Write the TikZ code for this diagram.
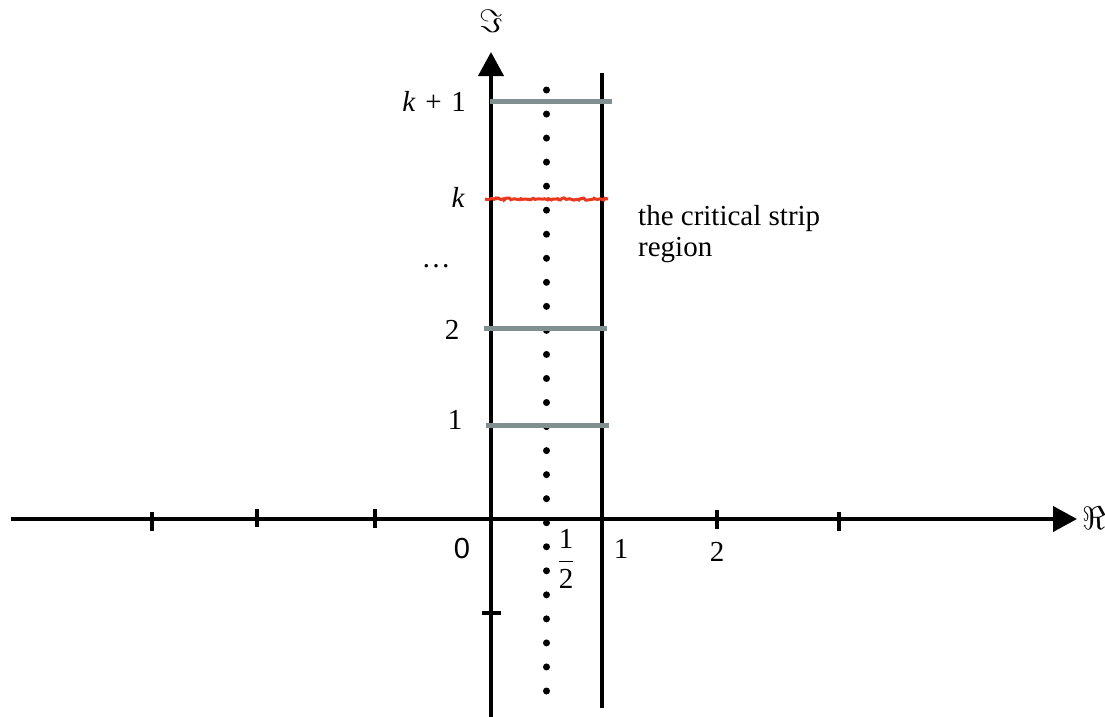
\RequirePackage{fix-cm}
\documentclass[tikz,border=0pt]{standalone}
\usepackage{fontspec}
\setmainfont{Liberation Serif}
\newfontfamily\arialfont{Liberation Sans}
\usetikzlibrary{arrows.meta,decorations.pathmorphing}
\definecolor{bargray}{RGB}{128,143,143}
\definecolor{barred}{RGB}{235,55,30}
\tikzset{
  axisline/.style={line width=4pt,black},
  axisarrow/.style={axisline,-{Triangle[length=24pt,width=25pt]}},
  stripline/.style={line width=4pt,black},
  bar/.style={line width=5pt,bargray},
  redbar/.style={line width=3pt,barred,decorate,decoration={random steps,segment length=2pt,amplitude=1.1pt}},
  tickmark/.style={line width=4.5pt,black},
  lbl/.style={font=\fontsize{29}{31}\selectfont,inner sep=0pt},
  axlbl/.style={lbl,scale=1.12},
  dot/.style={circle,fill=black,inner sep=0pt,minimum size=7pt}
}
\begin{document}
\begin{tikzpicture}[x=1pt,y=-1pt]
\useasboundingbox (0,0) rectangle (1105,717);
% axes
\coordinate (xs) at (11,519);
\coordinate (xe) at (1077,519);
\coordinate (ys) at (491,717);
\coordinate (ye) at (491,52);
\draw[axisarrow] (xs) -- (xe);
\draw[axisarrow] (ys) -- (ye);
\node[axlbl,anchor=west] (re) at (1082,518) {$\Re$};
\node[axlbl] (im) at (491,21) {$\Im$};
% right strip line
\coordinate (rs) at (602,708);
\coordinate (re2) at (602,73);
\draw[stripline] (rs) -- (re2);
% ticks on x axis
\foreach \x/\a/\b in {152/512/531,257/509/527,375/509/528,717/510/529,839/512/531}
  \draw[tickmark] (\x,\a) -- (\x,\b);
% tick on y axis
\draw[tickmark] (482,613) -- (501,613);
% dotted critical line
\foreach \i in {0,...,25}
  \node[dot] (d\i) at (546.5,{90+24.04*\i}) {};
% horizontal bars
\draw[bar] (490,101) -- (612,101);
\draw[bar] (484,328) -- (607,328);
\draw[bar] (486,425) -- (609,425);
\draw[redbar] (485,199) -- (608,199);
% labels
\node[lbl,anchor=east] (lk1) at (466,101) {\textit{k}\,\,+\,\,1};
\node[lbl,anchor=east] (lk) at (465,197) {\textit{k}};
\node[lbl] (ldots) at (436,266) {…};
\node[lbl] (l2) at (452,330) {2};
\node[lbl] (l1) at (455,420) {1};
\node[lbl] (l0) at (462,549) {\arialfont 0};
\node[lbl] (lhalf) at (566,559) {$\displaystyle\frac{\mbox{1}}{\mbox{2}}$};
\node[lbl] (lone) at (621,549) {1};
\node[lbl] (ltwo) at (717,552) {2};
\node[lbl,anchor=base west,align=left] (strip) at (638,256) {the critical strip\\region};
\end{tikzpicture}
\end{document}
